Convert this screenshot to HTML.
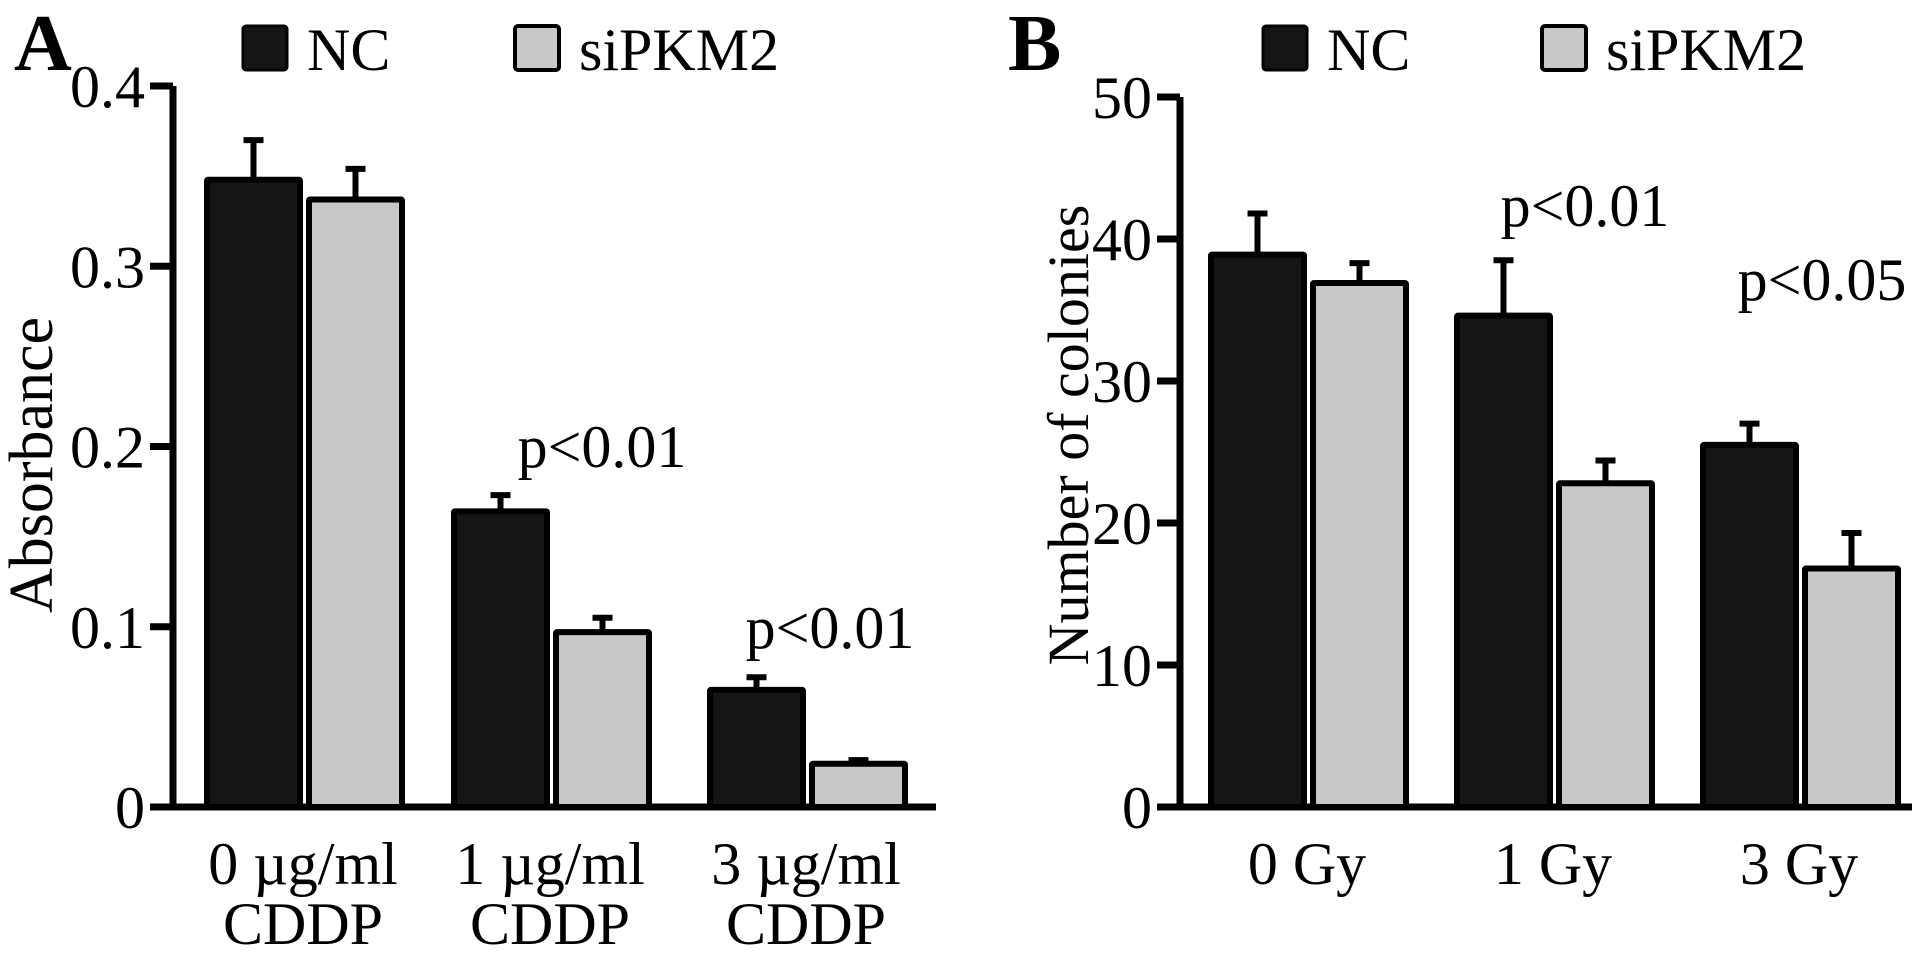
<!DOCTYPE html>
<html><head><meta charset="utf-8">
<style>
html,body{margin:0;padding:0;background:#fff;}
svg{display:block;font-family:"Liberation Serif","Times New Roman",serif;}
</style></head>
<body>
<svg id="chart" width="1925" height="954" viewBox="0 0 1925 954">
  <text x="14" y="70" font-size="80" font-weight="bold">A</text>
  <text x="1008" y="70" font-size="80" font-weight="bold">B</text>
  <g id="gA"></g>
  <g id="gB"></g>
</svg>
<script>
const catsA = ["0 µg/ml|CDDP", "1 µg/ml|CDDP", "3 µg/ml|CDDP"];
const ncA = [0.348, 0.164, 0.065];
const ncErrA = [0.022, 0.009, 0.007];
const siA = [0.337, 0.097, 0.024];
const siErrA = [0.017, 0.008, 0.002];
const ticksA = [0, 0.1, 0.2, 0.3, 0.4];
const tickLabelsA = ["0", "0.1", "0.2", "0.3", "0.4"];
const pA = ["", "p<0.01", "p<0.01"];

const catsB = ["0 Gy", "1 Gy", "3 Gy"];
const ncB = [38.9, 34.6, 25.5];
const ncErrB = [2.9, 3.9, 1.5];
const siB = [36.9, 22.8, 16.8];
const siErrB = [1.4, 1.6, 2.5];
const ticksB = [0, 10, 20, 30, 40, 50];
const tickLabelsB = ["0", "10", "20", "30", "40", "50"];
const pB = ["", "p<0.01", "p<0.05"];

const NS = "http://www.w3.org/2000/svg";
function mk(parent, tag, attrs, txt){
  const e = document.createElementNS(NS, tag);
  for (const k in attrs) e.setAttribute(k, attrs[k]);
  if (txt !== undefined) e.textContent = txt;
  parent.appendChild(e);
  return e;
}

function panel(g, cfg){
  const y = v => cfg.y0 - (v - cfg.min) / (cfg.max - cfg.min) * (cfg.y0 - cfg.yTop);
  let el = mk(g, "line", {x1: cfg.ax, y1: cfg.yTop, x2: cfg.ax, y2: cfg.y0 + 3, stroke: "#000", "stroke-width": 7});
  
  
  el = mk(g, "line", {x1: cfg.ax - 23, y1: cfg.y0, x2: cfg.axEnd, y2: cfg.y0, stroke: "#000", "stroke-width": 7});
  
  
  cfg.ticks.forEach((t, i) => {
    if (i > 0) {
      const tk = mk(g, "line", {x1: cfg.ax - 23, y1: y(t), x2: cfg.ax, y2: y(t), stroke: "#000", "stroke-width": 7});
      
      
    }
    const lb = mk(g, "text", {x: cfg.ax - 28, y: y(t) + 21, "font-size": 60, "text-anchor": "end"}, cfg.tickLabels[i]);
    
    
  });
  const tt = mk(g, "text", {x: 0, y: 0, "font-size": cfg.titleSize, "text-anchor": "middle", transform: `translate(${cfg.titleX},${cfg.titleY}) rotate(-90)`}, cfg.title);
  
  

  cfg.cats.forEach((c, i) => {
    const left = cfg.groupLeft[i];
    const series = [[cfg.nc[i], cfg.ncErr[i], "#151515", left], [cfg.si[i], cfg.siErr[i], "#c8c8c8", left + cfg.bw + 3]];
    series.forEach((s, j) => {
      const top = y(s[0]);
      const eb = y(s[0] + s[1]);
      const cx = s[3] + cfg.bw / 2;
      const el1 = mk(g, "line", {x1: cx, y1: top, x2: cx, y2: eb, stroke: "#000", "stroke-width": 6});
      
      
      const el2 = mk(g, "line", {x1: cx - 10, y1: eb, x2: cx + 10, y2: eb, stroke: "#000", "stroke-width": 6});
      
      
      const r = mk(g, "rect", {x: s[3] + 3, y: top, width: cfg.bw - 6, height: cfg.y0 - top, fill: s[2], stroke: "#000", "stroke-width": 6, rx: 1});
      
      
    });
    const parts = c.split("|");
    const cxg = left + cfg.bw;
    parts.forEach((p, k) => {
      const t = mk(g, "text", {x: cxg, y: cfg.y0 + 77 + k * 60, "font-size": 60, "text-anchor": "middle"}, p);
      
      
    });
    if (cfg.p[i]) {
      const pt = mk(g, "text", {x: cfg.pX[i], y: cfg.pY[i], "font-size": 60, "text-anchor": "middle"}, cfg.p[i]);
      
      
    }
  });
  const l1 = mk(g, "rect", {x: cfg.legX[0], y: 26, width: 44, height: 44, fill: "#151515", stroke: "#000", "stroke-width": 3, rx: 3});
  
  
  const t1 = mk(g, "text", {x: cfg.legX[0] + 64, y: 70, "font-size": 60}, "NC");
  
  
  const l2 = mk(g, "rect", {x: cfg.legX[1], y: 26, width: 44, height: 44, fill: "#c8c8c8", stroke: "#000", "stroke-width": 4, rx: 3});
  
  
  const t2 = mk(g, "text", {x: cfg.legX[1] + 64, y: 70, "font-size": 60}, "siPKM2");
  
  
}

panel(document.getElementById("gA"), {
  ax: 173, axEnd: 936, y0: 807, yTop: 86, min: 0, max: 0.4, bw: 99,
  ticks: ticksA, tickLabels: tickLabelsA, cats: catsA,
  nc: ncA, ncErr: ncErrA, si: siA, siErr: siErrA, p: pA,
  groupLeft: [204, 451, 707], pX: [0, 602, 830], pY: [0, 467, 648],
  title: "Absorbance", titleSize: 62, titleX: 52, titleY: 465, legX: [243, 515]
});
panel(document.getElementById("gB"), {
  ax: 1180, axEnd: 1912, y0: 807, yTop: 97, min: 0, max: 50, bw: 99,
  ticks: ticksB, tickLabels: tickLabelsB, cats: catsB,
  nc: ncB, ncErr: ncErrB, si: siB, siErr: siErrB, p: pB,
  groupLeft: [1208, 1454, 1700], pX: [0, 1585, 1822], pY: [0, 226, 300],
  title: "Number of colonies", titleSize: 58, titleX: 1088, titleY: 435, legX: [1263, 1542]
});
</script>
</body></html>
